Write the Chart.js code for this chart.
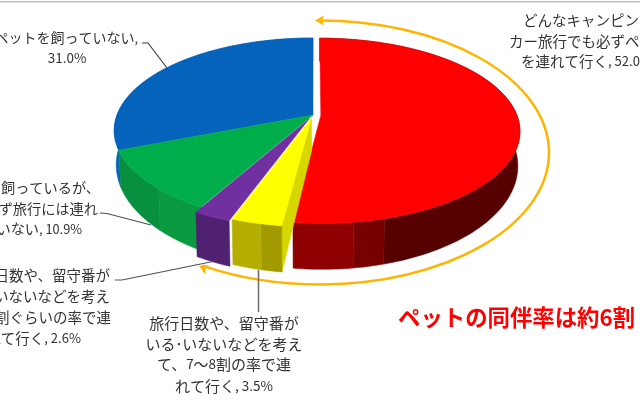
<!DOCTYPE html>
<html lang="ja">
<head>
<meta charset="utf-8">
<style>
  html, body { margin: 0; padding: 0; background: #fff; overflow: hidden; }
  #petChart { display: block; filter: blur(0.45px); }
</style>
<script src="https://cdn.jsdelivr.net/npm/chart.js@4"></script>
</head>
<body>
<canvas id="petChart" width="640" height="400"></canvas>
<script>
// Share of camping-car trips taken with a pet
const categories = [
    'どんなキャンピングカー旅行でも必ずペットを連れて行く',
    '旅行日数や、留守番がいる・いないなどを考えて、7~8割の率で連れて行く',
    '旅行日数や、留守番がいる・いないなどを考えて、5割ぐらいの率で連れて行く',
    'ペットを飼っているが、必ず旅行には連れて行かない',
    'ペットを飼っていない'
];
const shares = [52.0, 3.5, 2.6, 10.9, 31.0];

const topColors = ['#ff0000', '#ffff00', '#7030a0', '#00ad4b', '#0563bb'];
const cutColors = [null, '#d6d600', null, null, null];
const wallColors = [
    ['#560000', '#760000', '#8f0000'],
    ['#a39a00', '#b5ae00'],
    ['#4f2170'],
    ['#0a9b41', '#069040'],
    ['#0563bb']
];
// degrees clockwise from 12 o'clock where the wall shading changes
const wallBreaks = [[164.6, 172.4], [192.4], [], [223.8], []];
const explode = [0.04, 0.03, 0.045, 0, 0];
const drawOrder = [4, 3, 0, 2, 1];

// perspective of the disc
const CX = 313, TILT = -0.1676;
const TOP = { c: 196, y0: 115, b: 89.9 };
const BOTTOM = { c: 194, y0: 147.6, b: 101 };

function project(angle, radius, shift, level) {
    const u = radius * Math.cos(angle) + shift[0];
    const v = radius * Math.sin(angle) + shift[1];
    const d = 1 + TILT * v;
    return [CX + level.c * u / d, level.y0 + level.b * v / d];
}

function arcPoints(from, to, shift, level) {
    const pts = [];
    const steps = Math.max(2, Math.ceil(Math.abs(to - from) / 0.02));
    for (let i = 0; i <= steps; i++) {
        pts.push(project(from + (to - from) * i / steps, 1, shift, level));
    }
    return pts;
}

function fillPoly(ctx, pts, color) {
    ctx.beginPath();
    pts.forEach((p, i) => i ? ctx.lineTo(p[0], p[1]) : ctx.moveTo(p[0], p[1]));
    ctx.closePath();
    ctx.fillStyle = color;
    ctx.strokeStyle = color;
    ctx.lineWidth = 0.5;
    ctx.fill();
    ctx.stroke();
}

// the library works out the slice angles, this only projects them
const perspectivePie = {
    id: 'perspectivePie',
    beforeDatasetDraw(chart, args) {
        const ctx = chart.ctx;
        const arcs = args.meta.data;
        drawOrder.forEach(i => {
            const { startAngle, endAngle } = arcs[i].getProps(['startAngle', 'endAngle'], true);
            const mid = (startAngle + endAngle) / 2;
            const shift = [explode[i] * Math.cos(mid), explode[i] * Math.sin(mid)];

            // the face left showing where the slice was pulled away from red
            if (cutColors[i]) {
                fillPoly(ctx, [
                    project(startAngle, 0, shift, TOP),
                    project(startAngle, 1, shift, TOP),
                    project(startAngle, 1, shift, BOTTOM),
                    project(startAngle, 0, shift, BOTTOM)
                ], cutColors[i]);
            }

            const edges = [startAngle,
                ...wallBreaks[i].map(d => (d - 90) * Math.PI / 180),
                endAngle];
            wallColors[i].forEach((color, k) => {
                fillPoly(ctx, [
                    ...arcPoints(edges[k], edges[k + 1], shift, TOP),
                    ...arcPoints(edges[k + 1], edges[k], shift, BOTTOM)
                ], color);
            });

            fillPoly(ctx, [
                project(startAngle, 0, shift, TOP),
                ...arcPoints(startAngle, endAngle, shift, TOP)
            ], topColors[i]);
        });
        return false;
    }
};

function arrowHead(ctx, x, y, angle, size) {
    ctx.save();
    ctx.translate(x, y);
    ctx.rotate(angle);
    ctx.beginPath();
    ctx.moveTo(0, 0);
    ctx.lineTo(size, -size * 0.55);
    ctx.lineTo(size * 0.8, 0);
    ctx.lineTo(size, size * 0.55);
    ctx.closePath();
    ctx.fill();
    ctx.restore();
}

function polyline(ctx, pts, color, width) {
    ctx.beginPath();
    pts.forEach((p, i) => i ? ctx.lineTo(p[0], p[1]) : ctx.moveTo(p[0], p[1]));
    ctx.strokeStyle = color;
    ctx.lineWidth = width;
    ctx.stroke();
}

// digits in the picture run smaller than the kana, so draw the runs apart
function mixedText(ctx, text, x, y, align, size) {
    const runs = text.match(/[\x20-\x7e\uff61-\uff65]+|[^\x20-\x7e\uff61-\uff65]+/g).map(s => {
        const px = /^[\x20-\x7e\uff61-\uff65]/.test(s) ? size * 0.9 : size;
        const font = px + 'px "Noto Sans CJK JP"';
        ctx.font = font;
        return { s, font, w: ctx.measureText(s).width };
    });
    const total = runs.reduce((sum, r) => sum + r.w, 0);
    let cur = align === 'right' ? x - total : align === 'center' ? x - total / 2 : x;
    ctx.textAlign = 'left';
    runs.forEach(r => {
        ctx.font = r.font;
        ctx.fillText(r.s, cur, y);
        cur += r.w;
    });
}

// [text, x, y, align, font size]
const labelLines = [
    ['ペットを飼っていない,', 138, 38, 'right', 14],
    ['31.0%', 67, 58, 'center', 15],
    ['ペットを飼っているが、', 100, 188, 'right', 14.2],
    ['必ず旅行には連れ', 98, 209, 'right', 14.2],
    ['て行っていない, 10.9%', 82, 229, 'right', 14.2],
    ['旅行日数や、留守番が', 110, 275, 'right', 14.5],
    ['いる･いないなどを考え', 110, 296, 'right', 14.5],
    ['て、5割ぐらいの率で連', 111, 317, 'right', 14.5],
    ['れて行く, 2.6%', 81, 338, 'right', 14.5],
    ['旅行日数や、留守番が', 224, 323, 'center', 15],
    ['いる･いないなどを考え', 224, 344, 'center', 15],
    ['て、7～8割の率で連', 224, 364, 'center', 15],
    ['れて行く, 3.5%', 224, 386, 'center', 15],
    ['どんなキャンピング', 523, 20, 'left', 14.5],
    ['カー旅行でも必ずペット', 509, 41, 'left', 14.5],
    ['を連れて行く, 52.0%', 521, 61, 'left', 14.5]
];

const annotations = {
    id: 'annotations',
    afterDatasetsDraw(chart) {
        const ctx = chart.ctx;
        ctx.save();

        ctx.fillStyle = '#bcbcbc';
        ctx.fillRect(0, 1, 640, 1.5);

        // orange sweep round the pet-carrying slices
        ctx.beginPath();
        ctx.ellipse(320, 152.5, 229, 132, 0, -Math.PI / 2 - 0.01, Math.PI * 0.672);
        ctx.strokeStyle = '#ffb400';
        ctx.lineWidth = 2.5;
        ctx.stroke();
        ctx.fillStyle = '#ffb400';
        arrowHead(ctx, 315, 20.5, 0, 9);
        arrowHead(ctx, 199, 266, 0.42, 9);

        // leader lines
        polyline(ctx, [[142, 43], [148, 43], [167, 68]], '#404040', 1.2);
        polyline(ctx, [[100, 213], [107, 213.5], [151, 225]], '#505050', 1.2);
        polyline(ctx, [[115, 280], [122, 280], [213, 261.5]], '#505050', 1.2);
        polyline(ctx, [[258.5, 270], [258.5, 312]], '#6a6a6a', 1.5);

        ctx.textBaseline = 'middle';
        ctx.fillStyle = '#333333';
        labelLines.forEach(([text, x, y, align, size]) => mixedText(ctx, text, x, y, align, size));

        ctx.font = 'bold 22.4px "Noto Sans CJK JP"';
        ctx.fillStyle = '#ff0000';
        ctx.textAlign = 'left';
        ctx.fillText('ペットの同伴率は約6割', 398, 317);

        ctx.restore();
    }
};

new Chart(document.getElementById('petChart').getContext('2d'), {
    type: 'pie',
    data: {
        labels: categories,
        datasets: [{ data: shares, backgroundColor: topColors, borderWidth: 0 }]
    },
    options: {
        responsive: false,
        animation: false,
        plugins: { legend: { display: false }, tooltip: { enabled: false } }
    },
    plugins: [perspectivePie, annotations]
});
</script>
</body>
</html>
